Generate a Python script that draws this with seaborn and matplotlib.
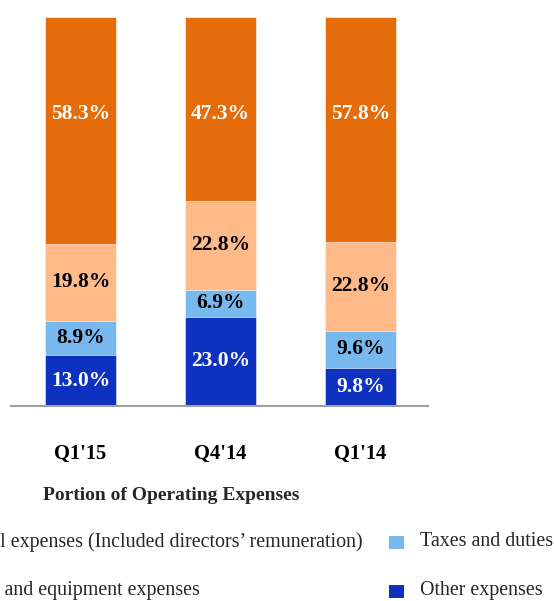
import matplotlib
matplotlib.use("Agg")
import matplotlib.pyplot as plt
import seaborn as sns
import pandas as pd
import numpy as np
from matplotlib.patches import Rectangle

# data (percent of operating expenses)
quarters = ["Q1'15", "Q4'14", "Q1'14"]
other = [13.0, 23.0, 9.8]
taxes = [8.9, 6.9, 9.6]
premises = [19.8, 22.8, 22.8]
personnel = [58.3, 47.3, 57.8]

series_names = ["Other expenses", "Taxes and duties",
                "Premises and equipment expenses",
                "Personnel expenses (Included directors\u2019 remuneration)"]
colors = ["#0E31C0", "#77B9EF", "#FFBA8A", "#E46C0A"]
label_colors = ["white", "black", "black", "white"]

sns.set_theme(style="white")
plt.rcParams['font.family'] = ['Liberation Serif', 'DejaVu Serif']

W, H = 554, 601
fig = plt.figure(figsize=(W / 100, H / 100), dpi=100)
ax = fig.add_axes([11 / W, 1 - 406 / H, (428 - 11) / W, (406 - 17) / H])

df = pd.DataFrame({"quarter": quarters, "Other": other, "Taxes": taxes,
                   "Premises": premises, "Personnel": personnel})
stack = df[["Other", "Taxes", "Premises", "Personnel"]].to_numpy()
cum = np.cumsum(stack, axis=1)

# stacked bars: draw the cumulative totals from the top down
for i in range(3, -1, -1):
    tmp = pd.DataFrame({"quarter": quarters, "value": cum[:, i]})
    sns.barplot(data=tmp, x="quarter", y="value", color=colors[i],
                width=0.507, saturation=1, edgecolor="white", linewidth=0.4, ax=ax)

# value labels (the top segment's labels sit at a common height, as in the source)
for j in range(len(quarters)):
    for i in range(4):
        bottom = cum[j, i] - stack[j, i]
        y = bottom + stack[j, i] / 2 if i < 3 else 75
        ax.text(j, y, f"{stack[j, i]:.1f}%",
                ha="center", va="center", fontsize=15.5, fontweight="bold",
                color=label_colors[i])

ax.set_xlim(-0.496, 2.482)
ax.set_ylim(0, 100)
ax.set_xlabel("")
ax.set_ylabel("")
ax.set_yticks([])
for s in ["top", "right", "left"]:
    ax.spines[s].set_visible(False)
ax.spines["bottom"].set_color("#A0A0A0")
ax.spines["bottom"].set_linewidth(1.5)
ax.tick_params(axis="x", length=0, pad=27, labelsize=14.8)
for lbl in ax.get_xticklabels():
    lbl.set_fontweight("bold")
    lbl.set_color("black")

fig.text(171 / W, 1 - 496 / H, "Portion of Operating Expenses", ha="center",
         va="center", fontsize=14, fontweight="bold")

# legend (the left column runs off the image edge, as in the source)
row_y = [1 - 542 / H, 1 - 591 / H]
t1 = fig.text(363 / W, row_y[0], series_names[3], ha="right", va="center", fontsize=14.4)
fig.canvas.draw()
x0 = t1.get_window_extent().x0 / W
fig.text(x0, row_y[1], series_names[2], ha="left", va="center", fontsize=14.4)

for k, (name, col) in enumerate([(series_names[1], colors[1]), (series_names[0], colors[0])]):
    fig.patches.append(Rectangle((389 / W, row_y[k] - 6.5 / H), 15 / W, 13 / H,
                                 transform=fig.transFigure, facecolor=col,
                                 edgecolor="none"))
    fig.text(420 / W, row_y[k], name, ha="left", va="center", fontsize=14.4)

fig.savefig("out.png", dpi=100)
